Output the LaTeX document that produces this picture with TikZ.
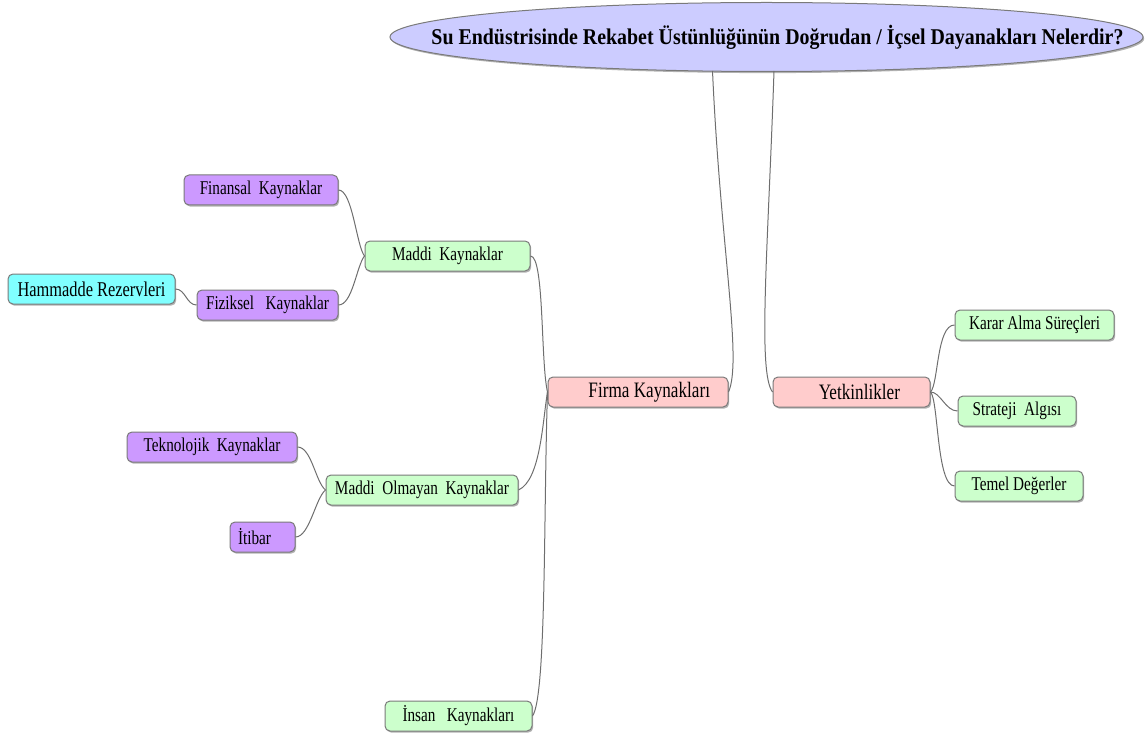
\documentclass[tikz,border=0pt]{standalone}
\usepackage{fontspec}
\setmainfont{Liberation Serif}[FakeStretch=0.78]
\usetikzlibrary{shapes.geometric,shadows}

\definecolor{titlefill}{HTML}{CCCCFF}
\definecolor{rootfill}{HTML}{FFCCCC}
\definecolor{leaffill}{HTML}{CCFFCC}
\definecolor{subfill}{HTML}{CC99FF}
\definecolor{rawfill}{HTML}{80FFFF}
\definecolor{edgegray}{HTML}{7A7A7A}
\definecolor{linkgray}{HTML}{6E6E6E}

\begin{document}
\begin{tikzpicture}[x=1pt,y=-1pt,
  shade/.style={drop shadow={shadow xshift=1.2pt,shadow yshift=-1.6pt,opacity=0.3,fill=black}},
  box/.style={shade,draw=edgegray,line width=1pt,rounded corners=5pt,
    minimum height=30pt,inner xsep=2pt,inner ysep=0pt,
    font=\fontsize{19.5}{22}\selectfont},
  bigbox/.style={box,font=\fontsize{22}{25}\selectfont},
  green/.style={box,fill=leaffill},
  pink/.style={bigbox,fill=rootfill},
  purple/.style={box,fill=subfill},
  cyan/.style={box,fill=rawfill},
  link/.style={draw=linkgray,line width=1pt}]
\useasboundingbox (0,0) rectangle (1147,735);

% central question: the ellipse is sized by hand, the text sits on it as a label
\node[ellipse,shade,draw=edgegray,line width=1pt,fill=titlefill,
      minimum width=753pt,minimum height=69pt,inner sep=0pt,
      label={[xshift=11pt,inner sep=0pt]center:{\resizebox{692pt}{\height}{\fontsize{22.5}{26}\selectfont\bfseries
   Su Endüstrisinde Rekabet Üstünlüğünün Doğrudan / İçsel Dayanakları Nelerdir?}}}] (title) at (766.5,37) {};

% main branches
\node[pink,text width=144pt,inner xsep=18pt,align=flush right] (firma) at (638,392) {Firma Kaynakları};
\node[pink,text width=97pt,inner xsep=30pt,align=flush right] (yetkin) at (851.5,392) {Yetkinlikler};

% resources
\node[green,minimum width=165pt] (maddi) at (447.5,256) {Maddi~~Kaynaklar};
\node[green,minimum width=192pt] (madolm) at (422,490) {Maddi~~Olmayan~~Kaynaklar};
\node[green,minimum width=147pt] (insan) at (458.5,716) {İnsan~~~Kaynakları};

\node[purple,minimum width=154pt] (finansal) at (261,190) {Finansal~~Kaynaklar};
\node[purple,minimum width=141pt] (fiziksel) at (267.5,305) {Fiziksel~~~Kaynaklar};
\node[cyan,minimum width=167pt,font=\fontsize{21}{24}\selectfont] (hammadde) at (91.5,289) {Hammadde Rezervleri};
\node[purple,minimum width=170pt] (teknolojik) at (212,447) {Teknolojik~~Kaynaklar};
\node[purple,text width=49pt,inner xsep=8pt,align=flush left] (itibar) at (262.5,537) {İtibar};

% competences
\node[green,minimum width=159pt] (karar) at (1034.5,325) {Karar Alma Süreçleri};
\node[green,minimum width=118pt] (strateji) at (1017,411) {Strateji~~Algısı};
\node[green,minimum width=128pt] (temel) at (1019,486) {Temel Değerler};

% connectors
\draw[link] ([xshift=-54pt,yshift=1pt]title.south) .. controls +(8,178) and +(14,-32) .. (firma.east);
\draw[link] ([xshift=7.5pt,yshift=1pt]title.south) .. controls +(-6,178) and +(-15,-20) .. (yetkin.west);

\draw[link] (firma.west) .. controls +(-7,-30) and +(14,0) .. (maddi.east);
\draw[link] (firma.west) .. controls +(-5,30) and +(22,-10) .. (madolm.east);
\draw[link] (firma.west) .. controls +(-4,120) and +(14,-20) .. (insan.east);

\draw[link] (maddi.west) .. controls +(-8,-10) and +(14,0) .. (finansal.east);
\draw[link] (maddi.west) .. controls +(-8,10) and +(14,0) .. (fiziksel.east);
\draw[link] (fiziksel.west) .. controls +(-10,0) and +(10,0) .. (hammadde.east);

\draw[link] (madolm.west) .. controls +(-10,-8) and +(14,0) .. (teknolojik.east);
\draw[link] (madolm.west) .. controls +(-10,8) and +(14,0) .. (itibar.east);

\draw[link] (yetkin.east) .. controls +(8,-8) and +(-18,0) .. (karar.west);
\draw[link] (yetkin.east) .. controls +(10,0) and +(-12,0) .. (strateji.west);
\draw[link] (yetkin.east) .. controls +(8,8) and +(-18,0) .. (temel.west);
\end{tikzpicture}
\end{document}
